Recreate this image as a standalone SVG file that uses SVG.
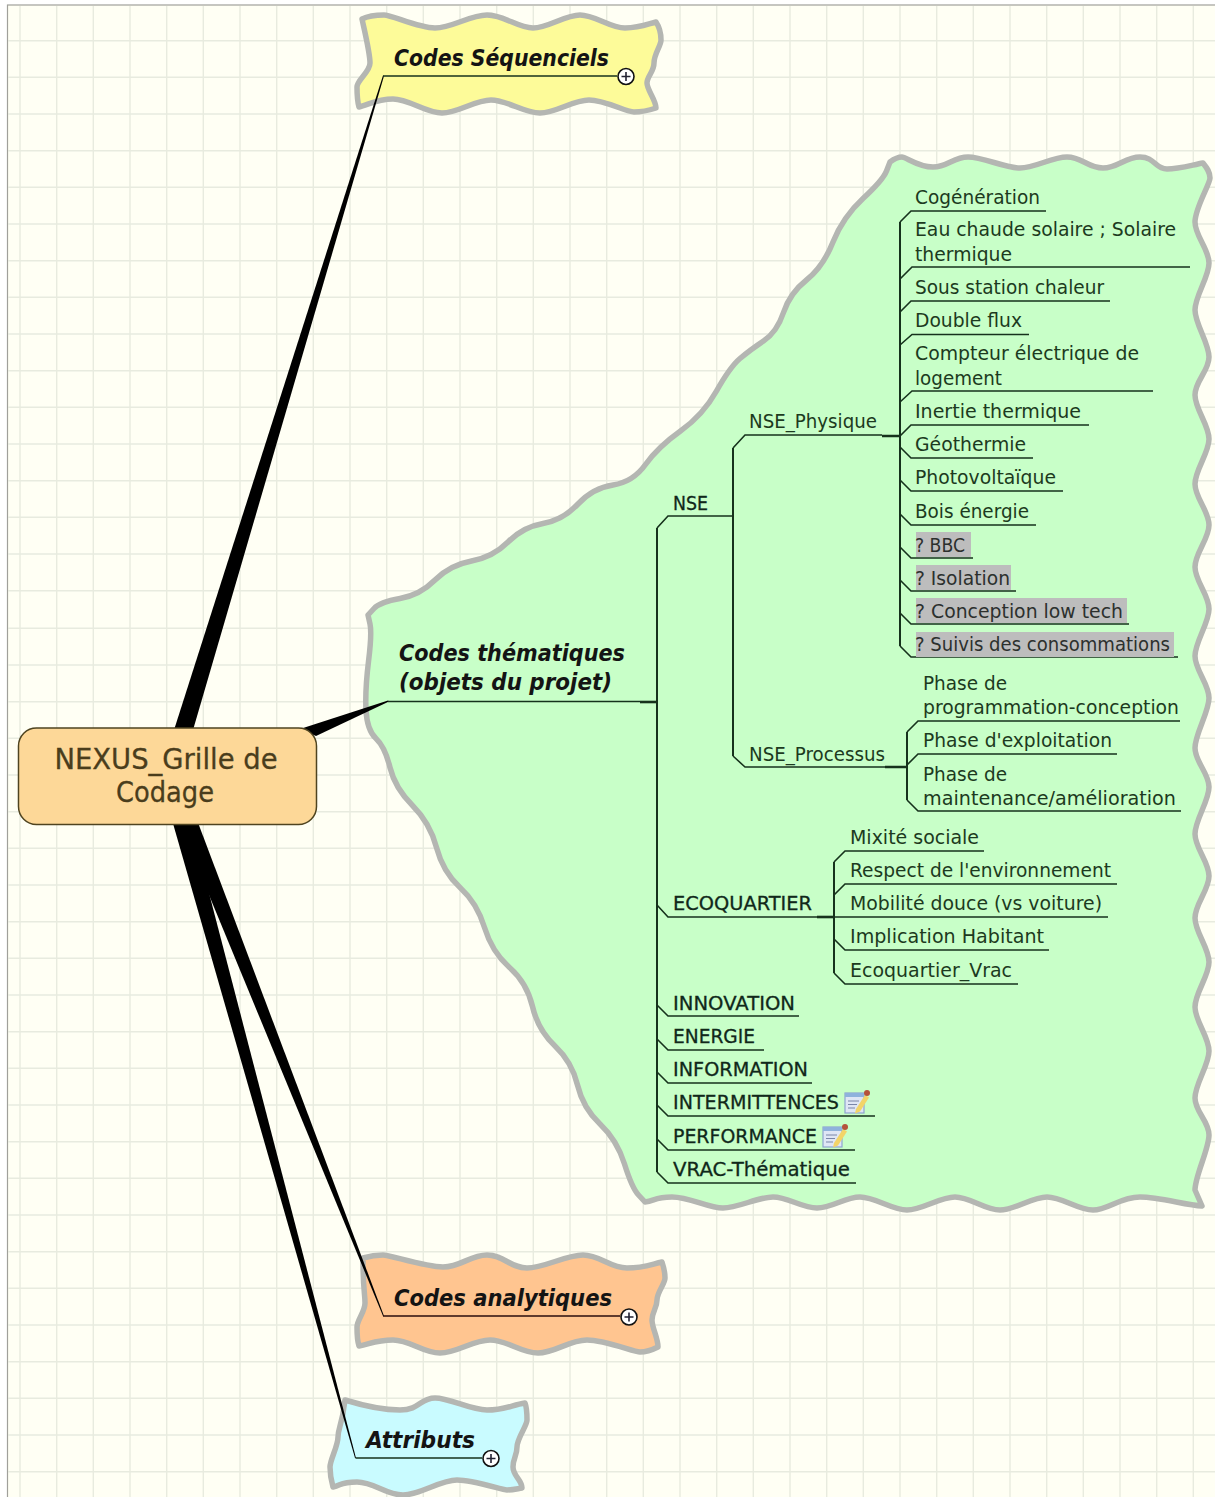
<svg xmlns="http://www.w3.org/2000/svg" xmlns:xlink="http://www.w3.org/1999/xlink" width="1215" height="1497" viewBox="0 0 1215 1497">
<style>
text{font-family:"DejaVu Sans","Liberation Sans",sans-serif}
.t{font-size:19px;fill:#1c3a20}
.g{fill:#2c302e}
.m{font-size:19.500px;fill:#10281a;stroke:#10281a;stroke-width:.3}
.h{font-size:23px;font-style:italic;font-weight:bold;fill:#141414}
.r{font-size:28px;fill:#4a3d1c;text-anchor:middle;stroke:#4a3d1c;stroke-width:.3}
.cloud{stroke:#b4b6b2;stroke-width:5.500;stroke-linejoin:round}
.grid{stroke:#e8ebdf;stroke-width:1.400;fill:none}
.c path{fill:none;stroke:#16321c;stroke-width:1.600}
.c .sp{stroke-width:2}
.c .th{stroke-width:2.600}
.k{fill:#000}
.hl{fill:#bdbdbd}
.pb circle{fill:#fff;stroke:#111;stroke-width:1.600}
.pb path{stroke:#223;stroke-width:1.600;fill:none}
</style>
<defs>
<symbol id="note" viewBox="0 0 26 25" overflow="visible">
<rect x="1" y="4" width="19" height="20" fill="#dfe6f5" stroke="#8fa5cf" stroke-width="1.200"/>
<rect x="1" y="4" width="19" height="4" fill="#8fb2dc"/>
<path d="M4 12h11M4 15.500h9M4 19h7" stroke="#7a86a8" stroke-width="1" fill="none"/>
<path d="M12 20l9-14 4 2.500-9 14-5 2z" fill="#f2d468"/>
<circle cx="23" cy="4" r="3" fill="#b5523a"/>
</symbol>
</defs>
<rect width="1215" height="1497" fill="#fff"/>
<rect x="7.500" y="5" width="1210" height="1495" fill="#fffff4" stroke="#a0a09a" stroke-width="1.200"/>
<path class="grid" d="M20 6V1497M56.700 6V1497M93.300 6V1497M130 6V1497M166.700 6V1497M203.300 6V1497M240 6V1497M276.700 6V1497M313.300 6V1497M350 6V1497M386.700 6V1497M423.300 6V1497M460 6V1497M496.700 6V1497M533.300 6V1497M570 6V1497M606.700 6V1497M643.300 6V1497M680 6V1497M716.700 6V1497M753.300 6V1497M790 6V1497M826.700 6V1497M863.300 6V1497M900 6V1497M936.700 6V1497M973.300 6V1497M1010 6V1497M1046.700 6V1497M1083.300 6V1497M1120 6V1497M1156.700 6V1497M1193.300 6V1497"/>
<path class="grid" d="M8 40.700H1215M8 77.300H1215M8 114H1215M8 150.700H1215M8 187.300H1215M8 224H1215M8 260.700H1215M8 297.300H1215M8 334H1215M8 370.700H1215M8 407.300H1215M8 444H1215M8 480.700H1215M8 517.300H1215M8 554H1215M8 590.700H1215M8 628.300H1215M8 665H1215M8 701.700H1215M8 738.300H1215M8 775H1215M8 811.700H1215M8 848.300H1215M8 885H1215M8 921.700H1215M8 958.300H1215M8 995H1215M8 1031.700H1215M8 1068.300H1215M8 1105H1215M8 1141.700H1215M8 1178.300H1215M8 1215H1215M8 1251.700H1215M8 1288.300H1215M8 1325H1215M8 1361.700H1215M8 1398.300H1215M8 1435H1215M8 1471.700H1215"/>

<g id="clouds">
<path id="cloud-seq" class="cloud" fill="#fdfb99" d="M362 19C368 16 376 15 384 15S418 28 435 28S470 15 487 15S518 28 533 28S565 15 580 15S610 28 625 28S648 24 656 22C660 28 661 34 661 40S654 54 654 63S647 76 647 83S656 100 656 108C650 110 642 112 634 112S605 100 589 100S556 113 540 113S507 100 491 100S458 113 442 113S409 99 393 99S368 105 359 107C357 100 357 94 357 87S370 72 370 63S368 46 362 19Z"/>
<path id="cloud-ana" class="cloud" fill="#ffc590" d="M363 1258C370 1256 376 1255 383 1255S425 1267 443 1267S470 1255 487 1255S510 1268 527 1268S566 1255 583 1255S610 1268 627 1268S652 1264 662 1262C664 1268 665 1272 665 1278S657 1292 657 1300S652 1312 652 1320S658 1338 658 1347C652 1350 646 1352 640 1352S605 1340 587 1340S555 1353 538 1353S507 1340 490 1340S457 1353 440 1353S410 1340 393 1340S370 1344 359 1346C357 1340 357 1334 357 1327S365 1312 365 1303S363 1290 363 1258Z"/>
<path id="cloud-att" class="cloud" fill="#c9fbff" d="M345 1400C358 1404 380 1410 400 1410S420 1398 435 1398S470 1410 487 1410S512 1405 525 1403C527 1408 527 1414 527 1420S517 1438 517 1447S513 1458 513 1467S522 1480 522 1488C516 1489 512 1490 507 1490S474 1480 457 1480S420 1495 403 1495S374 1482 357 1482S342 1485 333 1487C331 1480 330 1474 330 1467S338 1446 338 1437S342 1426 345 1400Z"/>
<path id="cloud-the" class="cloud" fill="#c8ffc8" d="M890 162C894 159 898 157 902 157S918 167 933 167S953 157 968 157S1005 168 1020 168S1052 157 1067 157S1088 168 1103 168S1125 157 1140 157S1155 169 1167 169S1192 165 1203 163C1207 168 1210 172 1210 178S1195 208 1195 222S1209 249 1209 263S1195 296 1195 310S1209 343 1209 357S1195 381 1195 395S1209 425 1209 439S1195 470 1195 484S1209 511 1209 525S1195 553 1195 567S1209 595 1209 609S1195 642 1195 656S1209 684 1209 698S1195 734 1195 748S1209 773 1209 787S1195 820 1195 834S1209 862 1209 876S1195 904 1195 918S1209 948 1209 962S1195 993 1195 1007S1209 1037 1209 1051S1195 1084 1195 1098S1209 1121 1209 1135S1195 1176 1195 1190L1202 1206C1185 1205 1160 1197 1140 1197S1108 1210 1093 1210S1062 1197 1047 1197S1015 1210 1000 1210S970 1197 955 1197S922 1210 907 1210S875 1197 860 1197S832 1208 817 1208S788 1197 773 1197S738 1208 723 1208S690 1197 672 1197S655 1201 645 1202L638.500 1195Q632 1188 624.500 1164Q617 1140 600 1124Q583 1108 577.500 1085Q572 1062 555 1046Q538 1030 532.500 1006.500Q527 983 509.500 967.500Q492 952 484.500 927.500Q477 903 460 887.500Q443 872 436.500 847.500Q430 823 412.500 805.500Q395 788 390 767.500Q385 747 376 738.500Q367 730 366 710Q365 690 368.500 661.500Q372 633 370 624L368 615L374 608.500Q380 602 400 598.500Q420 595 435 580Q450 565 471.500 561Q493 557 508 542Q523 527 543 523.500Q563 520 578 504Q593 488 613 485Q633 482 645.500 464.500Q658 447 680.500 431Q703 415 716.500 391Q730 367 740 358.500Q750 350 763.500 341Q777 332 783.500 312.500Q790 293 806.500 280Q823 267 833 242Q843 217 863 198.500Q883 180 886.500 171Z"/>
</g>

<g id="connectors">
<path class="k" d="M383 75.500L174 730L193 730L384 76Z"/>
<path class="k" d="M300 729L388 700.500L389 701.500L316 736Z"/>
<path class="k" d="M172 820L355 1458L356 1458L190 820Z"/>
<path class="k" d="M178 820L383 1316L384 1316L197 820Z"/>
<g class="c">
<path d="M383 76H617"/>
<path d="M383 1316H620" style="stroke:#2a0c0c"/>
<path d="M355.500 1458H482"/>
<path d="M388 701.500H640"/>
<path class="th" d="M640 702H657"/>
<path class="sp" d="M657 528V1172"/>
<path d="M657 528L668 516H733"/>
<path d="M657 905L668 917H835"/>
<path class="th" d="M817 917H835"/>
<path d="M657 1005L668 1016H799M657 1039L668 1050H764M657 1072L668 1083H812M657 1105L668 1116H875M657 1139L668 1150H855M657 1172L668 1183H856"/>
<path class="sp" d="M733 448V756"/>
<path d="M733 448L745 435H882M733 756L745 767H885"/>
<path class="th" d="M882 436H900M885 767H907"/>
<path class="sp" d="M900 222V646"/>
<path d="M900 222L911 211H1046M900 279L912 267H1190M900 312L911 301H1110M900 345L912 334.500H1029M900 402L912 391H1153M900 436L911 425H1089M900 447L911 458H1033M900 480L911 491H1063M900 514L911 525H1036M900 547L911 558H973M900 580L911 591H1016M900 613L911 624H1129M900 646L911 657H1178"/>
<path class="sp" d="M907 732V800"/>
<path d="M907 732L918 721H1180M907 765L918 754H1117M907 800L918 811H1181"/>
<path class="sp" d="M834 862V973"/>
<path d="M834 862L845 851H984M834 895L845 884H1117M834 917H1108M834 939L845 950H1049M834 973L845 984H1018"/>
</g>
</g>

<g id="root">
<rect x="18.500" y="728" width="298" height="96.500" rx="18" fill="#fdd898" stroke="#4f4420" stroke-width="1.500"/>
<text class="r" x="166" y="769" textLength="223" lengthAdjust="spacingAndGlyphs">NEXUS_Grille de</text>
<text class="r" x="165" y="802" textLength="98" lengthAdjust="spacingAndGlyphs">Codage</text>
</g>

<g id="node-seq">
<text class="h" x="394" y="66" textLength="215" lengthAdjust="spacingAndGlyphs">Codes Séquenciels</text>
<g class="pb"><circle cx="626" cy="76.500" r="8"/><path d="M621.500 76.500h9M626 72v9"/></g>
</g>
<g id="node-the">
<text class="h" x="399" y="661" textLength="226" lengthAdjust="spacingAndGlyphs">Codes thématiques</text>
<text class="h" x="399" y="690" textLength="213" lengthAdjust="spacingAndGlyphs">(objets du projet)</text>
</g>
<g id="node-ana">
<text class="h" x="394" y="1306" textLength="218" lengthAdjust="spacingAndGlyphs">Codes analytiques</text>
<g class="pb"><circle cx="629" cy="1317" r="8"/><path d="M624.500 1317h9M629 1312.500v9"/></g>
</g>
<g id="node-att">
<text class="h" x="366" y="1448" textLength="109" lengthAdjust="spacingAndGlyphs">Attributs</text>
<g class="pb"><circle cx="491" cy="1458.500" r="8"/><path d="M486.500 1458.500h9M491 1454v9"/></g>
</g>

<g id="node-nse"><text class="m" x="673" y="509.500" textLength="35" lengthAdjust="spacingAndGlyphs">NSE</text></g>
<g id="node-nse-physique"><text class="t" x="749" y="428" textLength="128" lengthAdjust="spacingAndGlyphs">NSE_Physique</text></g>
<g id="node-nse-processus"><text class="t" x="749" y="761" textLength="136" lengthAdjust="spacingAndGlyphs">NSE_Processus</text></g>

<g id="n1"><text class="t" x="915" y="204" textLength="125" lengthAdjust="spacingAndGlyphs">Cogénération</text></g>
<g id="n2"><text class="t" x="915" y="236" textLength="261" lengthAdjust="spacingAndGlyphs">Eau chaude solaire ; Solaire</text><text class="t" x="915" y="261" textLength="97" lengthAdjust="spacingAndGlyphs">thermique</text></g>
<g id="n3"><text class="t" x="915" y="294" textLength="189" lengthAdjust="spacingAndGlyphs">Sous station chaleur</text></g>
<g id="n4"><text class="t" x="915" y="327" textLength="107" lengthAdjust="spacingAndGlyphs">Double flux</text></g>
<g id="n5"><text class="t" x="915" y="360" textLength="224" lengthAdjust="spacingAndGlyphs">Compteur électrique de</text><text class="t" x="915" y="385" textLength="87" lengthAdjust="spacingAndGlyphs">logement</text></g>
<g id="n6"><text class="t" x="915" y="418" textLength="166" lengthAdjust="spacingAndGlyphs">Inertie thermique</text></g>
<g id="n7"><text class="t" x="915" y="451" textLength="111" lengthAdjust="spacingAndGlyphs">Géothermie</text></g>
<g id="n8"><text class="t" x="915" y="484" textLength="141" lengthAdjust="spacingAndGlyphs">Photovoltaïque</text></g>
<g id="n9"><text class="t" x="915" y="518" textLength="114" lengthAdjust="spacingAndGlyphs">Bois énergie</text></g>
<g id="n10"><rect class="hl" x="916" y="532" width="55" height="25"/><text class="t g" x="915" y="551.500" textLength="50" lengthAdjust="spacingAndGlyphs">? BBC</text></g>
<g id="n11"><rect class="hl" x="916" y="565" width="95" height="25"/><text class="t g" x="915" y="584.500" textLength="95" lengthAdjust="spacingAndGlyphs">? Isolation</text></g>
<g id="n12"><rect class="hl" x="916" y="598" width="211" height="25"/><text class="t g" x="915" y="617.500" textLength="208" lengthAdjust="spacingAndGlyphs">? Conception low tech</text></g>
<g id="n13"><rect class="hl" x="916" y="632" width="258" height="25"/><text class="t g" x="915" y="650.500" textLength="255" lengthAdjust="spacingAndGlyphs">? Suivis des consommations</text></g>

<g id="p1"><text class="t" x="923" y="690" textLength="84" lengthAdjust="spacingAndGlyphs">Phase de</text><text class="t" x="923" y="714" textLength="256" lengthAdjust="spacingAndGlyphs">programmation-conception</text></g>
<g id="p2"><text class="t" x="923" y="747" textLength="189" lengthAdjust="spacingAndGlyphs">Phase d'exploitation</text></g>
<g id="p3"><text class="t" x="923" y="781" textLength="84" lengthAdjust="spacingAndGlyphs">Phase de</text><text class="t" x="923" y="805" textLength="253" lengthAdjust="spacingAndGlyphs">maintenance/amélioration</text></g>

<g id="node-eco"><text class="m" x="673" y="910" textLength="139" lengthAdjust="spacingAndGlyphs">ECOQUARTIER</text></g>
<g id="e1"><text class="t" x="850" y="844" textLength="129" lengthAdjust="spacingAndGlyphs">Mixité sociale</text></g>
<g id="e2"><text class="t" x="850" y="877" textLength="261" lengthAdjust="spacingAndGlyphs">Respect de l'environnement</text></g>
<g id="e3"><text class="t" x="850" y="910" textLength="252" lengthAdjust="spacingAndGlyphs">Mobilité douce (vs voiture)</text></g>
<g id="e4"><text class="t" x="850" y="943" textLength="194" lengthAdjust="spacingAndGlyphs">Implication Habitant</text></g>
<g id="e5"><text class="t" x="850" y="977" textLength="162" lengthAdjust="spacingAndGlyphs">Ecoquartier_Vrac</text></g>

<g id="node-innovation"><text class="m" x="673" y="1010" textLength="122" lengthAdjust="spacingAndGlyphs">INNOVATION</text></g>
<g id="node-energie"><text class="m" x="673" y="1043" textLength="82" lengthAdjust="spacingAndGlyphs">ENERGIE</text></g>
<g id="node-information"><text class="m" x="673" y="1076" textLength="135" lengthAdjust="spacingAndGlyphs">INFORMATION</text></g>
<g id="node-intermittences"><text class="m" x="673" y="1109" textLength="166" lengthAdjust="spacingAndGlyphs">INTERMITTENCES</text><use xlink:href="#note" href="#note" x="844" y="1089" width="26" height="25"/></g>
<g id="node-performance"><text class="m" x="673" y="1143" textLength="144" lengthAdjust="spacingAndGlyphs">PERFORMANCE</text><use xlink:href="#note" href="#note" x="822" y="1123" width="26" height="25"/></g>
<g id="node-vrac"><text class="m" x="673" y="1176" textLength="177" lengthAdjust="spacingAndGlyphs">VRAC-Thématique</text></g>
</svg>
